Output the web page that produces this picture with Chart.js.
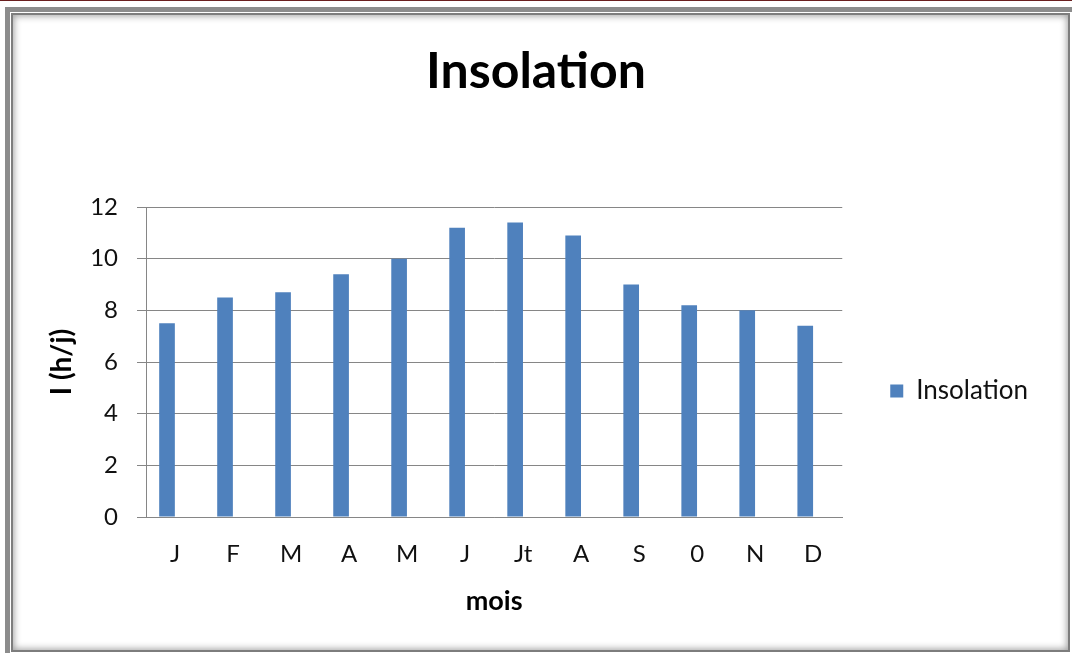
<!DOCTYPE html>
<html>
<head>
<meta charset="utf-8">
<script src="https://cdn.jsdelivr.net/npm/chart.js@4"></script>
<style>
  html, body { margin: 0; padding: 0; background: #fff; width: 1072px; height: 653px; overflow: hidden; }
  #wrap { position: relative; width: 1072px; height: 653px; overflow: hidden; }
  #chart { position: absolute; left: 0; top: 0; }
  .topline { position: absolute; left: 0; top: 0; width: 1072px; height: 1px; background: #6a1f1f; }
  .outer { position: absolute; left: 5px; top: 7px; width: 1200px; height: 800px;
           border-left: 5px solid #8c8c8c; border-top: 5px solid #8c8c8c; pointer-events: none; }
  .inner { position: absolute; left: 11px; top: 13px; width: 1055px; height: 635px;
           border: 2px solid #7d7d7d; box-shadow: inset 0 0 7px 1px rgba(0,0,0,0.38); pointer-events: none; }
</style>
</head>
<body>
<div id="wrap">
  <canvas id="chart" width="1072" height="653"></canvas>
  <div class="topline"></div>
  <div class="outer"></div>
  <div class="inner"></div>
</div>
<script>
// Monthly sunshine duration (hours per day)
const months = ['J', 'F', 'M', 'A', 'M', 'J', 'Jt', 'A', 'S', '0', 'N', 'D'];
const insolation = [7.5, 8.5, 8.7, 9.4, 10, 11.2, 11.4, 10.9, 9.0, 8.2, 8.0, 7.4];
// Second, empty series: keeps each bar in the left half of its category slot
const emptySeries = [null, null, null, null, null, null, null, null, null, null, null, null];
const yTicks = [0, 2, 4, 6, 8, 10, 12];

const axisGrey = '#868686';
const textDark = '#111111';

// Centres the title on the page and moves the legend block level with the plot's middle rows
const blockNudge = {
  id: 'blockNudge',
  afterLayout(chart) {
    const t = chart.titleBlock;
    if (t) {
      const tx = 536 - (t.left + t.right) / 2;
      t.left += tx; t.right += tx;
    }
    const lg = chart.legend;
    if (lg) {
      const dx = 38, dy = 29;
      lg.left += dx; lg.right += dx;
      lg.top += dy; lg.bottom += dy;
    }
  }
};

new Chart(document.getElementById('chart'), {
  type: 'bar',
  data: {
    labels: months,
    datasets: [
      {
        label: 'Insolation',
        data: insolation,
        backgroundColor: '#4f81bd',
        borderWidth: 0,
        categoryPercentage: 0.551,
        barPercentage: 0.98
      },
      {
        label: '',
        data: emptySeries,
        backgroundColor: 'rgba(0,0,0,0)',
        categoryPercentage: 0.551,
        barPercentage: 0.98
      }
    ]
  },
  options: {
    responsive: false,
    animation: false,
    layout: { padding: { left: 30, right: 72, top: 0, bottom: 20 } },
    plugins: {
      title: {
        display: true,
        text: 'Insolation',
        color: '#000',
        font: { family: 'Lato', weight: 'bold', size: 50 },
        padding: { top: 42, bottom: 105 }
      },
      legend: {
        position: 'right',
        fullSize: false,
        align: 'center',
        labels: {
          filter: (item) => item.datasetIndex === 0,
          boxWidth: 13,
          boxHeight: 13,
          color: textDark,
          font: { family: 'Lato', size: 26 }
        }
      },
      tooltip: { enabled: false }
    },
    scales: {
      x: {
        grid: { display: false, drawTicks: false },
        border: { display: true, color: axisGrey, width: 1 },
        ticks: {
          color: textDark,
          font: { family: 'Lato', size: 24 },
          padding: 23,
          maxRotation: 0,
          autoSkip: false
        },
        title: {
          display: true,
          text: 'mois',
          color: '#000',
          font: { family: 'Lato', weight: 'bold', size: 27 },
          padding: { top: 0, bottom: 16 }
        },
        afterFit: (scale) => { scale.height = 116; }
      },
      y: {
        min: yTicks[0],
        max: yTicks[yTicks.length - 1],
        afterBuildTicks: (scale) => { scale.ticks = yTicks.map((v) => ({ value: v })); },
        grid: { color: axisGrey, lineWidth: 1, tickLength: 9, drawTicks: true },
        border: { display: true, color: axisGrey, width: 1 },
        ticks: {
          color: textDark,
          font: { family: 'Lato', size: 24 },
          padding: 19
        },
        title: {
          display: true,
          text: 'I (h/j)',
          color: '#000',
          font: { family: 'Lato', weight: 'bold', size: 28 },
          padding: { top: 15, bottom: 0 }
        },
        afterFit: (scale) => { scale.width = 116; }
      }
    }
  },
  plugins: [blockNudge]
});
</script>
</body>
</html>
